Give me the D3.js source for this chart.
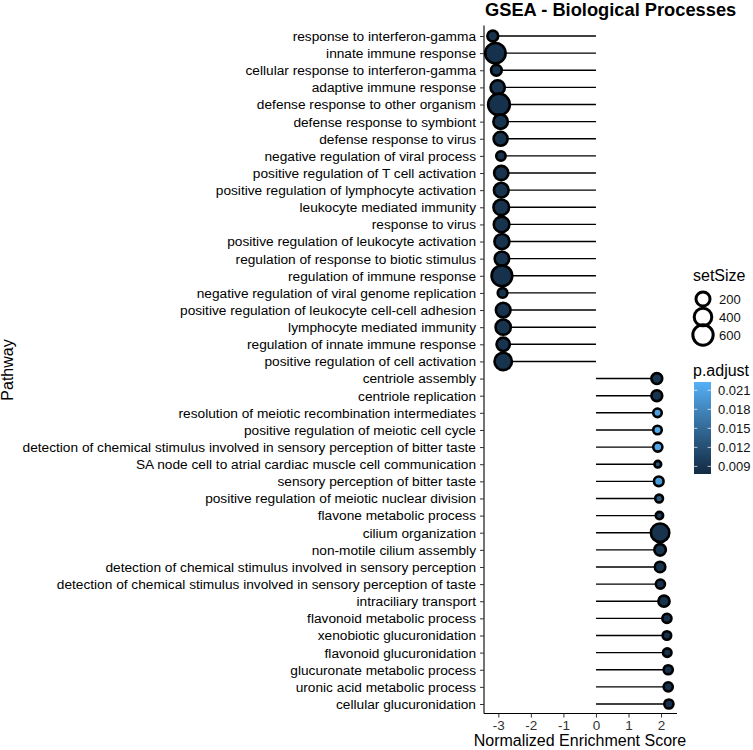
<!DOCTYPE html>
<html><head><meta charset="utf-8">
<script src="https://cdn.jsdelivr.net/npm/d3@7"></script>
<style>body{margin:0;background:#fff;} text{font-family:"Liberation Sans",Arial,sans-serif;}</style>
</head><body>
<svg id="chart" width="753" height="750"></svg>
<script>
const pathways = [
"response to interferon-gamma","innate immune response","cellular response to interferon-gamma","adaptive immune response",
"defense response to other organism","defense response to symbiont","defense response to virus","negative regulation of viral process",
"positive regulation of T cell activation","positive regulation of lymphocyte activation","leukocyte mediated immunity","response to virus",
"positive regulation of leukocyte activation","regulation of response to biotic stimulus","regulation of immune response",
"negative regulation of viral genome replication","positive regulation of leukocyte cell-cell adhesion","lymphocyte mediated immunity",
"regulation of innate immune response","positive regulation of cell activation","centriole assembly","centriole replication",
"resolution of meiotic recombination intermediates","positive regulation of meiotic cell cycle",
"detection of chemical stimulus involved in sensory perception of bitter taste","SA node cell to atrial cardiac muscle cell communication",
"sensory perception of bitter taste","positive regulation of meiotic nuclear division","flavone metabolic process","cilium organization",
"non-motile cilium assembly","detection of chemical stimulus involved in sensory perception",
"detection of chemical stimulus involved in sensory perception of taste","intraciliary transport","flavonoid metabolic process",
"xenobiotic glucuronidation","flavonoid glucuronidation","glucuronate metabolic process","uronic acid metabolic process","cellular glucuronidation"
];
const nes = [-3.17,-3.09,-3.06,-3.02,-2.98,-2.93,-2.93,-2.92,-2.91,-2.91,-2.91,-2.90,-2.89,-2.89,-2.89,-2.87,-2.85,-2.85,-2.85,-2.85,
 1.87,1.87,1.89,1.89,1.90,1.90,1.93,1.94,1.95,1.97,1.97,1.97,1.98,2.09,2.18,2.18,2.19,2.22,2.22,2.24];
const setSize = [90,620,85,220,735,230,210,55,220,240,290,290,260,230,645,60,240,270,180,400,
 90,90,40,40,50,22,60,30,26,470,110,80,50,100,50,40,40,50,50,50];
const pAdjust = [0.0088,0.0086,0.0088,0.0088,0.0086,0.0088,0.0088,0.0088,0.0088,0.0088,0.0088,0.0088,0.0088,0.0088,0.0086,0.0088,0.0088,0.0088,0.0088,0.0088,
 0.0092,0.0090,0.0205,0.0215,0.0212,0.0125,0.0200,0.0135,0.0100,0.0088,0.0090,0.0088,0.0088,0.0088,0.0086,0.0086,0.0086,0.0086,0.0086,0.0086];
const xTicks = [-3,-2,-1,0,1,2];
const sizeBreaks = [200,400,600];
const pTicks = [0.009,0.012,0.015,0.018,0.021];

const FONT = "Liberation Sans, Arial, sans-serif";
const svg = d3.select("#chart");
const x = d3.scaleLinear().domain([-3.44, 2.49]).range([484, 677]);
const y = d3.scalePoint().domain(pathways).range([36, 704]);
const sizeT = d3.scaleLinear().domain([20, 800]).range([0, 1]).clamp(true);
const diam = d3.scaleLinear().domain([0, 1]).range([8.5, 25]);
const dOf = v => diam(Math.sqrt(sizeT(v)));
const col = d3.scaleLinear().domain([0.0078, 0.0223]).range(["#132B43", "#56B1F7"]).interpolate(d3.interpolateLab);

const data = pathways.map((p, i) => ({p, nes: nes[i], size: setSize[i], padj: pAdjust[i]}));

svg.append("g").selectAll("line").data(data).join("line")
  .attr("x1", x(0)).attr("x2", d => x(d.nes))
  .attr("y1", d => y(d.p)).attr("y2", d => y(d.p))
  .attr("stroke", "#000").attr("stroke-width", 1.4);

svg.append("g").selectAll("circle").data(data).join("circle")
  .attr("cx", d => x(d.nes)).attr("cy", d => y(d.p))
  .attr("r", d => dOf(d.size) / 2 - 1.3)
  .attr("fill", d => col(d.padj)).attr("stroke", "#000").attr("stroke-width", 2.6);

const xAxis = svg.append("g").attr("transform", "translate(0,713.5)")
  .call(d3.axisBottom(x).tickValues(xTicks).tickSize(4).tickPadding(3).tickFormat(d => String(d)));
xAxis.select(".domain").attr("d", "M484,0H677").attr("stroke", "#000").attr("stroke-width", 1.1);
xAxis.selectAll(".tick line").attr("stroke", "#333");
xAxis.selectAll(".tick text").attr("font-size", 13.5).attr("fill", "#333").attr("font-family", FONT);

const yAxis = svg.append("g").attr("transform", "translate(484,0)")
  .call(d3.axisLeft(y).tickSize(4).tickPadding(4));
yAxis.select(".domain").attr("d", "M0,25.5V713.5").attr("stroke", "#000").attr("stroke-width", 1.1);
yAxis.selectAll(".tick line").attr("stroke", "#333");
yAxis.selectAll(".tick text").attr("font-size", 13.7).attr("fill", "#000").attr("font-family", FONT);

svg.append("text").attr("x", 485).attr("y", 16).attr("font-size", 18.3).attr("font-weight", "bold").text("GSEA - Biological Processes");
svg.append("text").attr("x", 580).attr("y", 746).attr("text-anchor", "middle").attr("font-size", 16).text("Normalized Enrichment Score");
svg.append("text").attr("transform", "translate(13,370) rotate(-90)").attr("text-anchor", "middle").attr("font-size", 16).text("Pathway");

svg.append("text").attr("x", 693).attr("y", 281).attr("font-size", 16).text("setSize");
const keyY = d3.scalePoint().domain(sizeBreaks).range([299, 335]);
const sl = svg.append("g").selectAll("g").data(sizeBreaks).join("g");
sl.append("circle").attr("cx", 703).attr("cy", d => keyY(d)).attr("r", d => dOf(d) / 2 - 1.2)
  .attr("fill", "none").attr("stroke", "#000").attr("stroke-width", 3);
sl.append("text").attr("x", 719).attr("y", d => keyY(d) + 4.8).attr("font-size", 13).attr("fill", "#111").text(d => d);

svg.append("text").attr("x", 693).attr("y", 376).attr("font-size", 16).text("p.adjust");
const barTop = 382, barBot = 474, barX = 694, barW = 17;
const defs = svg.append("defs");
const grad = defs.append("linearGradient").attr("id", "pgrad").attr("x1", 0).attr("x2", 0).attr("y1", 1).attr("y2", 0);
d3.range(0, 1.0001, 0.1).forEach(t => {
  grad.append("stop").attr("offset", t).attr("stop-color", col(col.domain()[0] + t * (col.domain()[1] - col.domain()[0])));
});
svg.append("rect").attr("x", barX).attr("y", barTop).attr("width", barW).attr("height", barBot - barTop).attr("fill", "url(#pgrad)");
const py = d3.scaleLinear().domain(col.domain()).range([barBot, barTop]);
const pl = svg.append("g").selectAll("g").data(pTicks).join("g");
pl.append("line").attr("x1", barX).attr("x2", barX + 3.4).attr("y1", d => py(d)).attr("y2", d => py(d)).attr("stroke", "#fff").attr("stroke-opacity", 0.7);
pl.append("line").attr("x1", barX + barW - 3.4).attr("x2", barX + barW).attr("y1", d => py(d)).attr("y2", d => py(d)).attr("stroke", "#fff").attr("stroke-opacity", 0.7);
pl.append("text").attr("x", 718).attr("y", d => py(d) + 4.8).attr("font-size", 13).attr("fill", "#111").text(d => d.toFixed(3));
</script>
</body></html>
